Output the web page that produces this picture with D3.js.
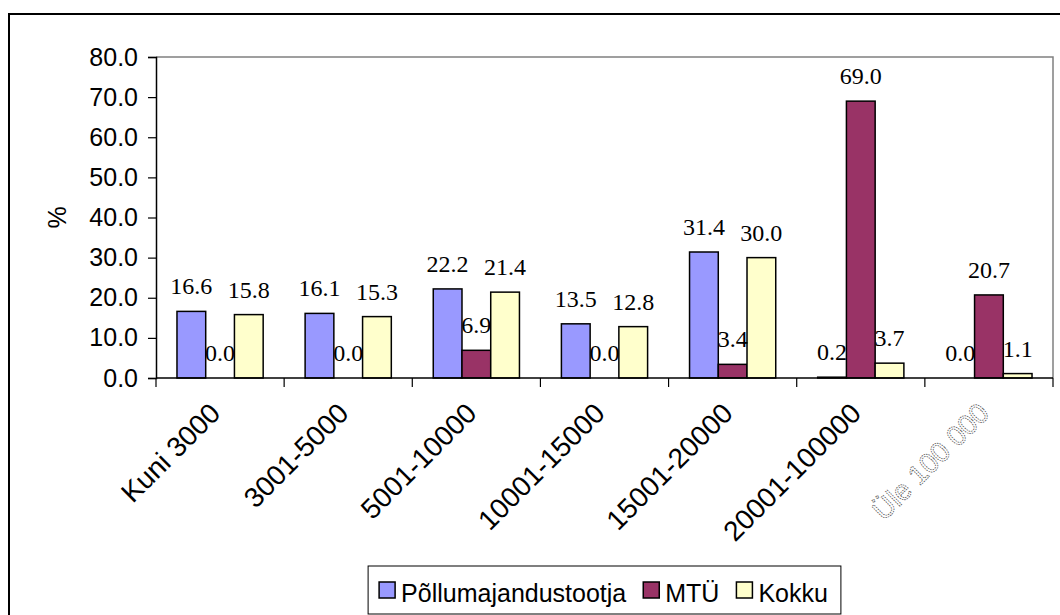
<!DOCTYPE html>
<html>
<head>
<meta charset="utf-8">
<script src="https://cdn.jsdelivr.net/npm/d3@7"></script>
<style>
  body { margin: 0; background: #fff; }
  svg { display: block; }
</style>
</head>
<body>
<svg id="chart" width="1060" height="615"></svg>
<script>
const categories = ["Kuni 3000", "3001-5000", "5001-10000", "10001-15000", "15001-20000", "20001-100000", "Üle 100 000"]
const seriesNames = ["Põllumajandustootja", "MTÜ", "Kokku"]
const farmers = [16.6, 16.1, 22.2, 13.5, 31.4, 0.2, 0.0]
const ngo = [0.0, 0.0, 6.9, 0.0, 3.4, 69.0, 20.7]
const total = [15.8, 15.3, 21.4, 12.8, 30.0, 3.7, 1.1]
const yTicks = [0, 10, 20, 30, 40, 50, 60, 70, 80]

const colors = ["#9999ff", "#993366", "#ffffcc"]
const series = [farmers, ngo, total]

const plot = {left: 156, top: 57, right: 1053, bottom: 378}

let svg = d3.select("#chart")

// outer chart border (right and bottom edges fall outside the picture)
svg.append("rect")
    .attr("x", 9).attr("y", 14)
    .attr("width", 1100).attr("height", 700)
    .attr("fill", "#fff")
    .attr("stroke", "#000")
    .attr("stroke-width", 2)

let x = d3.scaleBand()
    .domain(categories)
    .range([plot.left, plot.right])
    .padding(0)

let xInner = d3.scaleBand()
    .domain(d3.range(seriesNames.length))
    .range([0, x.bandwidth()])
    .paddingInner(0)
    .paddingOuter(0.73)

let y = d3.scaleLinear()
    .domain([0, 80])
    .range([plot.bottom, plot.top])

// plot area frame: grey top and right edges
svg.append("path")
    .attr("d", `M${plot.left},${plot.top}H${plot.right}V${plot.bottom}`)
    .attr("fill", "none")
    .attr("stroke", "#808080")
    .attr("stroke-width", 1.5)

// y axis
let yAxis = svg.append("g")
    .attr("transform", `translate(${plot.left},0)`)
    .call(d3.axisLeft(y).tickValues(yTicks).tickFormat(d3.format(".1f")).tickSize(8).tickPadding(10))
yAxis.select(".domain").attr("stroke", "#000").attr("stroke-width", 1.5)
yAxis.selectAll(".tick line").attr("stroke", "#000").attr("stroke-width", 1.2)
yAxis.selectAll(".tick text")
    .attr("font-family", "Liberation Sans, Arial, sans-serif")
    .attr("font-size", 25)
    .attr("fill", "#000")

svg.append("text")
    .attr("transform", `translate(66,${(plot.top + plot.bottom) / 2}) rotate(-90)`)
    .attr("text-anchor", "middle")
    .attr("font-family", "Liberation Sans, Arial, sans-serif")
    .attr("font-size", 25)
    .text("%")

// bars
let groups = svg.append("g")
    .selectAll("g")
    .data(categories)
    .join("g")
        .attr("transform", d => `translate(${x(d)},0)`)

groups.selectAll("rect")
    .data((d, i) => series.map((s, j) => ({j, value: s[i]})))
    .join("rect")
        .attr("x", d => xInner(d.j))
        .attr("y", d => y(d.value))
        .attr("width", xInner.bandwidth())
        .attr("height", d => y(0) - y(d.value))
        .attr("fill", d => colors[d.j])
        .attr("stroke", "#000")
        .attr("stroke-width", 1.5)

groups.selectAll("text")
    .data((d, i) => series.map((s, j) => ({j, value: s[i]})))
    .join("text")
        .attr("x", d => xInner(d.j) + xInner.bandwidth() / 2)
        .attr("y", d => y(d.value) - 17)
        .attr("text-anchor", "middle")
        .attr("font-family", "Liberation Serif, Times New Roman, serif")
        .attr("font-size", 24)
        .text(d => d3.format(".1f")(d.value))

// x axis
let xAxis = svg.append("g")
    .attr("transform", `translate(0,${plot.bottom})`)
xAxis.append("line")
    .attr("x1", plot.left).attr("x2", plot.right)
    .attr("stroke", "#000").attr("stroke-width", 1.5)
xAxis.selectAll("line.tick")
    .data(categories.concat([null]))
    .join("line")
        .classed("tick", true)
        .attr("x1", (d, i) => plot.left + i * x.step())
        .attr("x2", (d, i) => plot.left + i * x.step())
        .attr("y1", 0).attr("y2", 9)
        .attr("stroke", "#000").attr("stroke-width", 1.2)

let last = categories.length - 1
xAxis.selectAll("text")
    .data(categories)
    .join("text")
        .attr("transform", d => `translate(${x(d) + x.bandwidth() / 2 - 5},${30}) rotate(-45)`)
        .attr("text-anchor", "end")
        .attr("dy", "0.35em")
        .attr("font-family", "Liberation Sans, Arial, sans-serif")
        .attr("font-size", 28)
        .attr("fill", (d, i) => i == last ? "#fff" : "#000")
        .attr("stroke", (d, i) => i == last ? "#555" : "none")
        .attr("stroke-width", 0.8)
        .attr("stroke-dasharray", (d, i) => i == last ? "1.5,1" : null)
        .text(d => d)

// legend
let legend = svg.append("g")
let legendBox = legend.append("rect")
    .attr("fill", "#fff")
    .attr("stroke", "#000")
    .attr("stroke-width", 1)
let lx = 0
seriesNames.forEach((name, i) => {
    let g = legend.append("g")
    g.append("rect")
        .attr("x", lx).attr("y", -11)
        .attr("width", 16).attr("height", 16)
        .attr("fill", colors[i])
        .attr("stroke", "#000")
        .attr("stroke-width", 1.5)
    let t = g.append("text")
        .attr("x", lx + 22)
        .attr("y", 0)
        .attr("dy", "0.35em")
        .attr("font-family", "Liberation Sans, Arial, sans-serif")
        .attr("font-size", 25)
        .text(name)
    lx += 22 + t.node().getComputedTextLength() + 17
})
let legendWidth = lx - 17 + 24
let legendLeft = (plot.left + plot.right) / 2 - legendWidth / 2
legend.attr("transform", `translate(${legendLeft + 11},${593})`)
legendBox
    .attr("x", -11).attr("y", -27)
    .attr("width", legendWidth).attr("height", 48)
</script>
</body>
</html>
